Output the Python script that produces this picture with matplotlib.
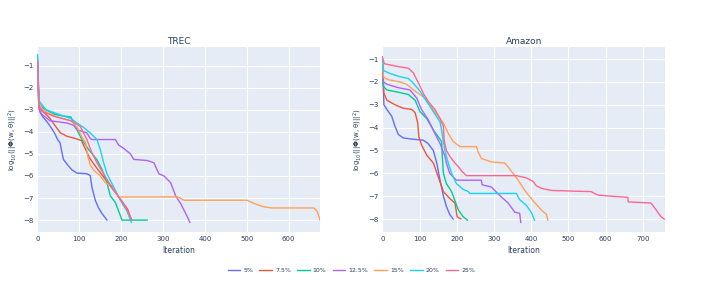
import numpy as np
import matplotlib.pyplot as plt

labels = ['5%', '7.5%', '10%', '12.5%', '15%', '20%', '25%']
colors = ['#636EFA', '#EF553B', '#00CC96', '#AB63FA', '#FFA15A', '#19D3F3', '#FF6692']

# TREC curves: (iteration, log10 value)
trec_5 = [(0, -0.6), (3, -2.7), (6, -3.1), (12, -3.3), (25, -3.6), (34, -3.85), (42, -4.1),
          (48, -4.35), (54, -4.5), (58, -4.9), (62, -5.25), (72, -5.5), (82, -5.72), (94, -5.87),
          (118, -5.9), (126, -5.98), (130, -6.5), (138, -7.1), (146, -7.45), (154, -7.7), (166, -8.0)]
trec_75 = [(0, -0.8), (3, -2.8), (10, -3.05), (20, -3.2), (30, -3.4), (45, -3.8), (55, -4.05),
           (70, -4.2), (90, -4.3), (105, -4.4), (115, -4.8), (125, -5.2), (140, -5.6),
           (160, -6.1), (180, -6.6), (200, -7.1), (215, -7.5), (225, -8.0)]
trec_10 = [(0, -0.9), (4, -2.75), (15, -2.95), (40, -3.2), (60, -3.28), (80, -3.33), (94, -3.9),
           (106, -4.35), (122, -4.8), (142, -5.26), (154, -5.7), (166, -6.3), (174, -6.9),
           (186, -7.2), (194, -7.6), (202, -8.0), (262, -8.0)]
trec_125 = [(0, -0.9), (4, -3.0), (10, -3.2), (30, -3.5), (70, -3.6), (86, -3.7), (94, -3.9),
            (118, -4.05), (126, -4.3), (130, -4.35), (186, -4.35), (194, -4.6), (206, -4.75),
            (222, -5.0), (230, -5.25), (262, -5.3), (278, -5.4), (290, -5.9), (302, -6.0),
            (318, -6.3), (330, -6.9), (342, -7.25), (350, -7.55), (358, -7.85), (364, -8.1)]
trec_15 = [(0, -0.9), (3, -2.6), (10, -2.95), (30, -3.2), (60, -3.4), (80, -3.5), (95, -3.8),
           (105, -4.2), (115, -4.5), (120, -5.1), (126, -5.5), (135, -5.75), (150, -6.0),
           (162, -6.3), (178, -6.45), (188, -6.8), (195, -6.95), (335, -6.95), (350, -7.1),
           (500, -7.1), (518, -7.25), (540, -7.4), (560, -7.45), (660, -7.45), (668, -7.6),
           (675, -8.0)]
trec_20 = [(0, -0.5), (4, -2.6), (20, -3.0), (50, -3.2), (80, -3.4), (94, -3.6), (110, -3.8),
           (126, -4.05), (142, -4.35), (150, -4.8), (158, -5.4), (166, -5.9), (182, -6.5),
           (198, -7.1), (214, -7.6), (224, -8.1)]
trec_25 = [(0, -0.8), (4, -2.9), (15, -3.1), (40, -3.3), (80, -3.5), (102, -3.75), (118, -4.35),
           (130, -4.95), (142, -5.4), (158, -5.9), (174, -6.4), (194, -6.95), (210, -7.4),
           (222, -7.85), (224, -8.0)]

# Amazon curves
amz_5 = [(0, -1.2), (4, -3.0), (12, -3.2), (25, -3.5), (34, -3.95), (43, -4.3), (56, -4.45),
         (79, -4.5), (110, -4.55), (123, -4.7), (137, -5.0), (146, -5.55), (155, -6.3),
         (164, -7.0), (172, -7.45), (181, -7.8), (190, -8.0)]
amz_75 = [(0, -1.2), (4, -2.5), (12, -2.8), (34, -3.0), (56, -3.15), (79, -3.2), (88, -3.35),
          (95, -3.8), (98, -4.4), (105, -4.75), (119, -5.2), (137, -5.55), (150, -6.15),
          (164, -6.8), (181, -7.1), (195, -7.3), (201, -7.9), (211, -8.0)]
amz_10 = [(0, -1.2), (3, -2.2), (12, -2.35), (43, -2.45), (70, -2.55), (88, -2.8), (101, -3.3),
          (119, -3.6), (137, -4.1), (150, -4.4), (159, -4.6), (161, -5.25), (164, -6.0),
          (172, -6.45), (186, -6.8), (195, -7.2), (204, -7.6), (217, -7.9), (229, -8.05)]
amz_125 = [(0, -1.2), (3, -2.0), (12, -2.1), (43, -2.25), (74, -2.35), (92, -2.7), (105, -3.2),
           (123, -3.65), (141, -4.25), (155, -4.7), (168, -5.25), (172, -5.55), (181, -6.0),
           (199, -6.3), (266, -6.3), (268, -6.5), (293, -6.6), (311, -6.9), (338, -7.3),
           (356, -7.7), (369, -7.75), (372, -8.15)]
amz_15 = [(0, -1.1), (3, -1.8), (16, -1.9), (47, -2.0), (65, -2.1), (88, -2.4), (114, -2.7),
          (132, -3.1), (150, -3.5), (164, -3.8), (177, -4.25), (190, -4.6), (208, -4.83),
          (253, -4.83), (257, -5.05), (266, -5.35), (293, -5.5), (329, -5.55), (342, -5.8),
          (365, -6.3), (383, -6.75), (405, -7.2), (427, -7.6), (441, -7.8), (445, -8.05)]
amz_20 = [(0, -1.0), (3, -1.5), (16, -1.6), (43, -1.75), (70, -1.85), (83, -2.05), (101, -2.4),
          (119, -2.85), (137, -3.3), (155, -3.75), (159, -4.1), (168, -5.0), (177, -5.55),
          (186, -6.0), (199, -6.45), (217, -6.7), (231, -6.8), (235, -6.88), (360, -6.88),
          (369, -7.15), (387, -7.4), (400, -7.7), (409, -8.05)]
amz_25 = [(0, -0.9), (5, -1.2), (34, -1.3), (70, -1.4), (83, -1.6), (97, -2.05), (110, -2.5),
          (123, -2.85), (141, -3.2), (155, -3.6), (164, -3.95), (166, -4.55), (172, -5.0),
          (181, -5.25), (195, -5.55), (204, -5.7), (213, -5.9), (226, -6.1), (360, -6.1),
          (387, -6.2), (405, -6.35), (414, -6.55), (427, -6.65), (454, -6.75), (561, -6.8),
          (579, -6.95), (615, -7.0), (660, -7.05), (661, -7.25), (722, -7.3), (736, -7.6),
          (749, -7.9), (758, -8.0)]

trec = [trec_5, trec_75, trec_10, trec_125, trec_15, trec_20, trec_25]
amazon = [amz_5, amz_75, amz_10, amz_125, amz_15, amz_20, amz_25]

bg = '#E5ECF6'
txt = '#2a3f5f'

fig = plt.figure(figsize=(7.03, 2.82), dpi=100)
ax1 = fig.add_axes([0.0533, 0.178, 0.402, 0.656])
ax2 = fig.add_axes([0.544, 0.178, 0.402, 0.656])


def style(ax, title, xmax, ylim, xticks):
    ax.set_facecolor(bg)
    for s in ax.spines.values():
        s.set_visible(False)
    ax.grid(True, color='white', linewidth=0.8)
    ax.set_axisbelow(True)
    ax.set_xlim(0, xmax)
    ax.set_ylim(*ylim)
    ax.set_xticks(xticks)
    ax.set_yticks(range(-8, 0))
    ax.tick_params(length=0, labelsize=5, labelcolor=txt, pad=3)
    ax.axvline(0, color='white', linewidth=1.6, zorder=1)
    ax.set_title(title, fontsize=6.5, color=txt, pad=2)
    ax.set_xlabel('Iteration', fontsize=5.5, color=txt, labelpad=3)
    ax.set_ylabel(r'log$_{10}$(||$\mathbf{\Phi}$(w, θ)||$^2$)', fontsize=5, color=txt, labelpad=2)


handles = []
for data, col, lab in zip(trec, colors, labels):
    x, y = zip(*data)
    h, = ax1.plot(x, y, color=col, linewidth=1.0, label=lab)
    handles.append(h)
for data, col in zip(amazon, colors):
    x, y = zip(*data)
    ax2.plot(x, y, color=col, linewidth=1.0)

style(ax1, 'TREC', 675, (-8.53, -0.15), range(0, 700, 100))
style(ax2, 'Amazon', 760, (-8.56, -0.46), range(0, 800, 100))

fig.legend(handles, labels, loc='center', bbox_to_anchor=(0.5, 0.04), ncol=7, frameon=False,
           fontsize=4.5, handlelength=2.0, columnspacing=1.0, handletextpad=0.5,
           labelcolor=txt)

fig.savefig('out.png', dpi=100, facecolor='white')
